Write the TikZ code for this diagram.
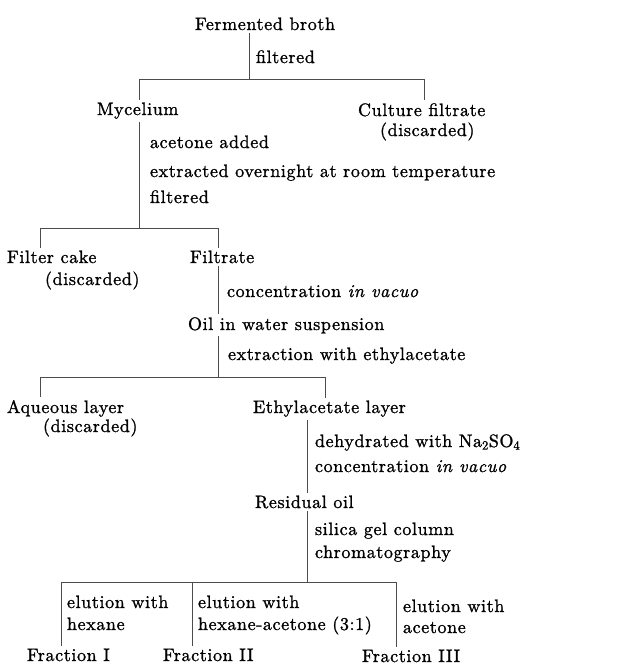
\documentclass[tikz,border=0pt]{standalone}
\usepackage{fontspec}
\setmainfont{lmroman10-regular.otf}[ItalicFont=lmroman10-italic.otf, LetterSpace=3.5, FakeBold=1.2]
\usepackage{tikz}
\begin{document}
\begin{tikzpicture}[x=1pt,y=-1pt,
  txt/.style={anchor=base west,inner sep=0pt,outer xsep=0pt,outer ysep=3pt,font=\fontsize{18}{22}\selectfont},
  ln/.style={line width=0.8pt,black!70}]
\useasboundingbox (0,0) rectangle (631,665);
% nodes
\node[txt] (fb) at (195,30) {Fermented broth};
\node[txt] (l1) at (256,63) {filtered};
\node[txt] (myc) at (97,115) {Mycelium};
\node[txt] (cf) at (358,116) {Culture filtrate};
\node[txt] (cfd) at (380,136) {(discarded)};
\node[txt] (l2) at (150,148) {acetone added};
\node[txt] (l3) at (150,177) {extracted overnight at room temperature};
\node[txt] (l4) at (150,203) {filtered};
\node[txt] (fc) at (7,263) {Filter cake};
\node[txt] (fcd) at (45,285) {(discarded)};
\node[txt] (ft) at (190,263) {Filtrate};
\node[txt] (l5) at (227,297) {concentration \textit{in vacuo}};
\node[txt] (oil) at (188,330) {Oil in water suspension};
\node[txt] (l6) at (228,360) {extraction with ethylacetate};
\node[txt] (aq) at (7,413) {Aqueous layer};
\node[txt] (aqd) at (43,432) {(discarded)};
\node[txt] (et) at (253,413) {Ethylacetate layer};
\node[txt] (l7) at (315,447) {dehydrated with Na\textsubscript{\bfseries 2}SO\textsubscript{\bfseries 4}};
\node[txt] (l8) at (315,472) {concentration \textit{in vacuo}};
\node[txt] (res) at (255,508) {Residual oil};
\node[txt] (l9) at (315,535) {silica gel column};
\node[txt] (l10) at (315,558) {chromatography};
\node[txt] (e1a) at (67,608) {elution with};
\node[txt] (e1b) at (67,630) {hexane};
\node[txt] (e2a) at (198,608) {elution with};
\node[txt] (e2b) at (198,630) {hexane-acetone (3:1)};
\node[txt] (e3a) at (403,612) {elution with};
\node[txt] (e3b) at (403,633) {acetone};
\node[txt] (f1) at (27,661) {Fraction I};
\node[txt] (f2) at (163,661) {Fraction II};
\node[txt] (f3) at (362,662) {Fraction III};
% junctions
\coordinate (j1) at (249,79);
\coordinate (k1a) at (139,79);
\coordinate (k1b) at (424,79);
\coordinate (j2) at (139,228);
\coordinate (k2a) at (40,228);
\coordinate (k2b) at (218,228);
\coordinate (j3) at (218,377);
\coordinate (k3a) at (40,377);
\coordinate (k3b) at (325,377);
\coordinate (j4) at (307,582);
\coordinate (k4a) at (61,582);
\coordinate (k4b) at (192,582);
\coordinate (k4c) at (396,582);
% connectors
\draw[ln] (fb.south -| j1) -- (j1);
\draw[ln] (k1a |- myc.north) -- (k1a) -- (k1b) -- (k1b |- cf.north);
\draw[ln] (myc.south -| j2) -- (j2);
\draw[ln] (k2a |- fc.north) -- (k2a) -- (k2b) -- (k2b |- ft.north);
\draw[ln] (ft.south -| k2b) -- (oil.north -| k2b);
\draw[ln] (oil.south -| j3) -- (j3);
\draw[ln] (k3a |- aq.north) -- (k3a) -- (k3b) -- (k3b |- et.north);
\draw[ln] (et.south -| j4) -- (res.north -| j4);
\draw[ln] (res.south -| j4) -- (j4);
\draw[ln] (k4a |- f1.north) -- (k4a) -- (k4c) -- (k4c |- f3.north);
\draw[ln] (k4b) -- (k4b |- f2.north);
\end{tikzpicture}
\end{document}
